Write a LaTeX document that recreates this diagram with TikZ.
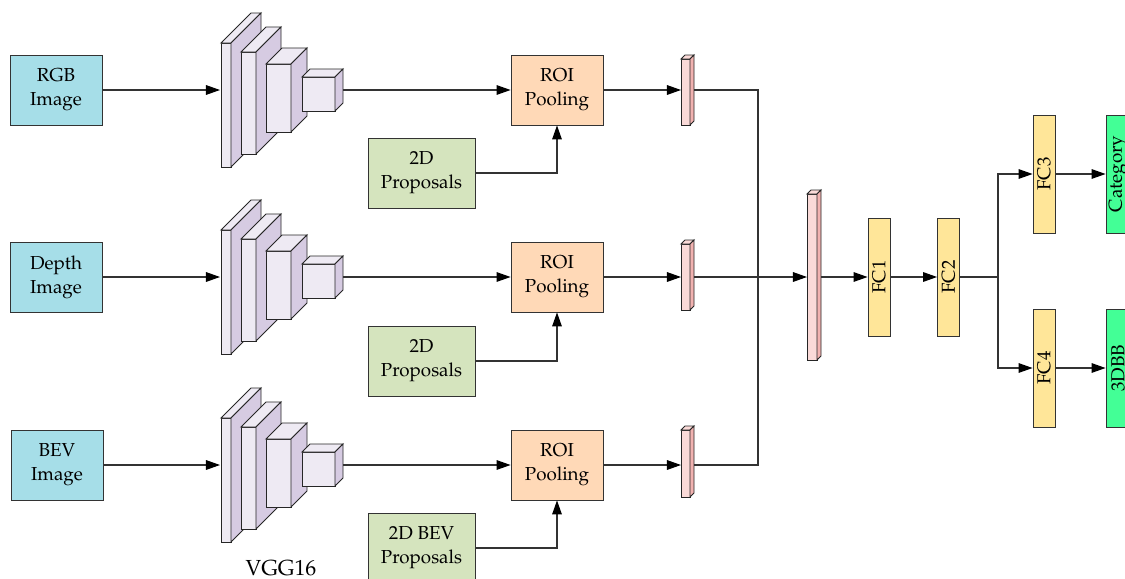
\documentclass[tikz,border=0pt]{standalone}
\usepackage[T1]{fontenc}
\usepackage{mathpazo}
\usepackage{tikz}
\usetikzlibrary{arrows.meta, positioning, calc}
\definecolor{imgblue}{RGB}{166,222,232}
\definecolor{roiorange}{RGB}{255,217,183}
\definecolor{propgreen}{RGB}{213,228,190}
\definecolor{vggfront}{RGB}{238,234,243}
\definecolor{vggside}{RGB}{214,203,226}
\definecolor{vecfront}{RGB}{250,218,216}
\definecolor{vecside}{RGB}{241,178,176}
\definecolor{fcyellow}{RGB}{255,230,153}
\definecolor{outgreen}{RGB}{67,255,150}

% x, y, width, height, depth, front colour, side colour
\newcommand{\cuboid}[7]{%
  \filldraw[fill=#6, draw=black!85, line width=0.5pt] (#1,#2) rectangle ++(#3,#4);
  \filldraw[fill=#6, draw=black!85, line width=0.5pt] (#1,#2) -- ++(#5,-#5) -- ++(#3,0) -- ++(-#5,#5) -- cycle;
  \filldraw[fill=#7, draw=black!85, line width=0.5pt] (#1+#3,#2) -- ++(#5,-#5) -- ++(0,#4) -- ++(-#5,#5) -- cycle;
}
% one VGG16 backbone, shifted down by #1
\newcommand{\vggblock}[1]{%
  \cuboid{221}{43+#1}{10}{124}{30}{vggfront}{vggside}
  \cuboid{241}{52+#1}{15}{102}{25}{vggfront}{vggside}
  \cuboid{266}{64+#1}{25}{68}{16}{vggfront}{vggside}
  \cuboid{302}{77+#1}{33}{34}{8}{vggfront}{vggside}
}

\begin{document}
\begin{tikzpicture}[
    x=0.02cm, y=-0.02cm,
    font=\fontsize{10.7}{13.7}\selectfont,
    box/.style={rectangle, draw=black!80, line width=0.5pt, align=center, inner sep=1pt},
    inbox/.style={box, fill=imgblue, minimum width=1.84cm, minimum height=1.4cm},
    roibox/.style={box, fill=roiorange, minimum width=1.84cm, minimum height=1.4cm},
    propbox/.style={box, fill=propgreen, minimum width=2.14cm, minimum height=1.4cm},
    fcbox/.style={box, fill=fcyellow, rotate=90, minimum width=2.36cm, minimum height=0.44cm},
    outbox/.style={box, fill=outgreen, rotate=90, minimum width=2.36cm, minimum height=0.48cm},
    arrow/.style={-{Triangle[length=8pt, width=5.5pt, black]}, draw=black!80, line width=0.6pt},
    link/.style={draw=black!80, line width=0.6pt}
]
\useasboundingbox (0,0) rectangle (1125,578);

% backbones and feature vectors
\vggblock{0}
\vggblock{187}
\vggblock{375}
\cuboid{681}{59}{9}{66}{4}{vecfront}{vecside}
\cuboid{681}{244}{9}{66}{4}{vecfront}{vecside}
\cuboid{681}{430}{9}{67}{4}{vecfront}{vecside}
\cuboid{807}{194}{10}{166}{4}{vecfront}{vecside}

\coordinate (vggin1) at (220,90);
\coordinate (vggout1) at (343,90);
\coordinate (vggin2) at (220,277);
\coordinate (vggout2) at (343,277);
\coordinate (vggin3) at (220,465);
\coordinate (vggout3) at (343,465);
\coordinate (vecin1) at (681,90);
\coordinate (vecout1) at (694,90);
\coordinate (vecin2) at (681,277);
\coordinate (vecout2) at (694,277);
\coordinate (vecin3) at (681,465);
\coordinate (vecout3) at (694,465);
\coordinate (join) at (758,277);
\coordinate (bigin) at (807,277);
\coordinate (bigout) at (821,277);
\coordinate (split) at (998,277);

\node[inbox] (rgb) at (56,90) {RGB\\Image};
\node[inbox] (depth) at (56,277) {Depth\\Image};
\node[inbox] (bev) at (57,465) {BEV\\Image};

\node[roibox] (roi1) at (557,90) {ROI\\Pooling};
\node[roibox] (roi2) at (557,277) {ROI\\Pooling};
\node[roibox] (roi3) at (557,465) {ROI\\Pooling};

\node[propbox] (prop1) at (421.5,173) {2D\\Proposals};
\node[propbox] (prop2) at (421.5,361) {2D\\Proposals};
\node[propbox] (prop3) at (421.5,548) {2D BEV\\Proposals};

\node[font=\fontsize{12.4}{14}\selectfont] (vgglabel) at (281,568) {VGG16};

\node[fcbox] (fc1) at (879,277) {FC1};
\node[fcbox] (fc2) at (948.5,277) {FC2};
\node[fcbox] (fc3) at (1044,174) {FC3};
\node[fcbox] (fc4) at (1044,368) {FC4};
\node[outbox] (cat) at (1118,174) {Category};
\node[outbox] (bbox) at (1118,368) {3DBB};

\draw[arrow] (rgb) -- (vggin1);
\draw[arrow] (depth) -- (vggin2);
\draw[arrow] (bev) -- (vggin3);
\draw[arrow] (vggout1) -- (roi1);
\draw[arrow] (vggout2) -- (roi2);
\draw[arrow] (vggout3) -- (roi3);
\draw[arrow] (prop1) -| (roi1);
\draw[arrow] (prop2) -| (roi2);
\draw[arrow] (prop3) -| (roi3);
\draw[arrow] (roi1) -- (vecin1);
\draw[arrow] (roi2) -- (vecin2);
\draw[arrow] (roi3) -- (vecin3);
\draw[link] (vecout1) -| (join) |- (vecout3);
\draw[arrow] (vecout2) -- (bigin);
\draw[arrow] (bigout) -- (fc1);
\draw[arrow] (fc1) -- (fc2);
\draw[link] (fc2) -- (split);
\draw[arrow] (split) |- (fc3);
\draw[arrow] (split) |- (fc4);
\draw[arrow] (fc3) -- (cat);
\draw[arrow] (fc4) -- (bbox);
\end{tikzpicture}
\end{document}
